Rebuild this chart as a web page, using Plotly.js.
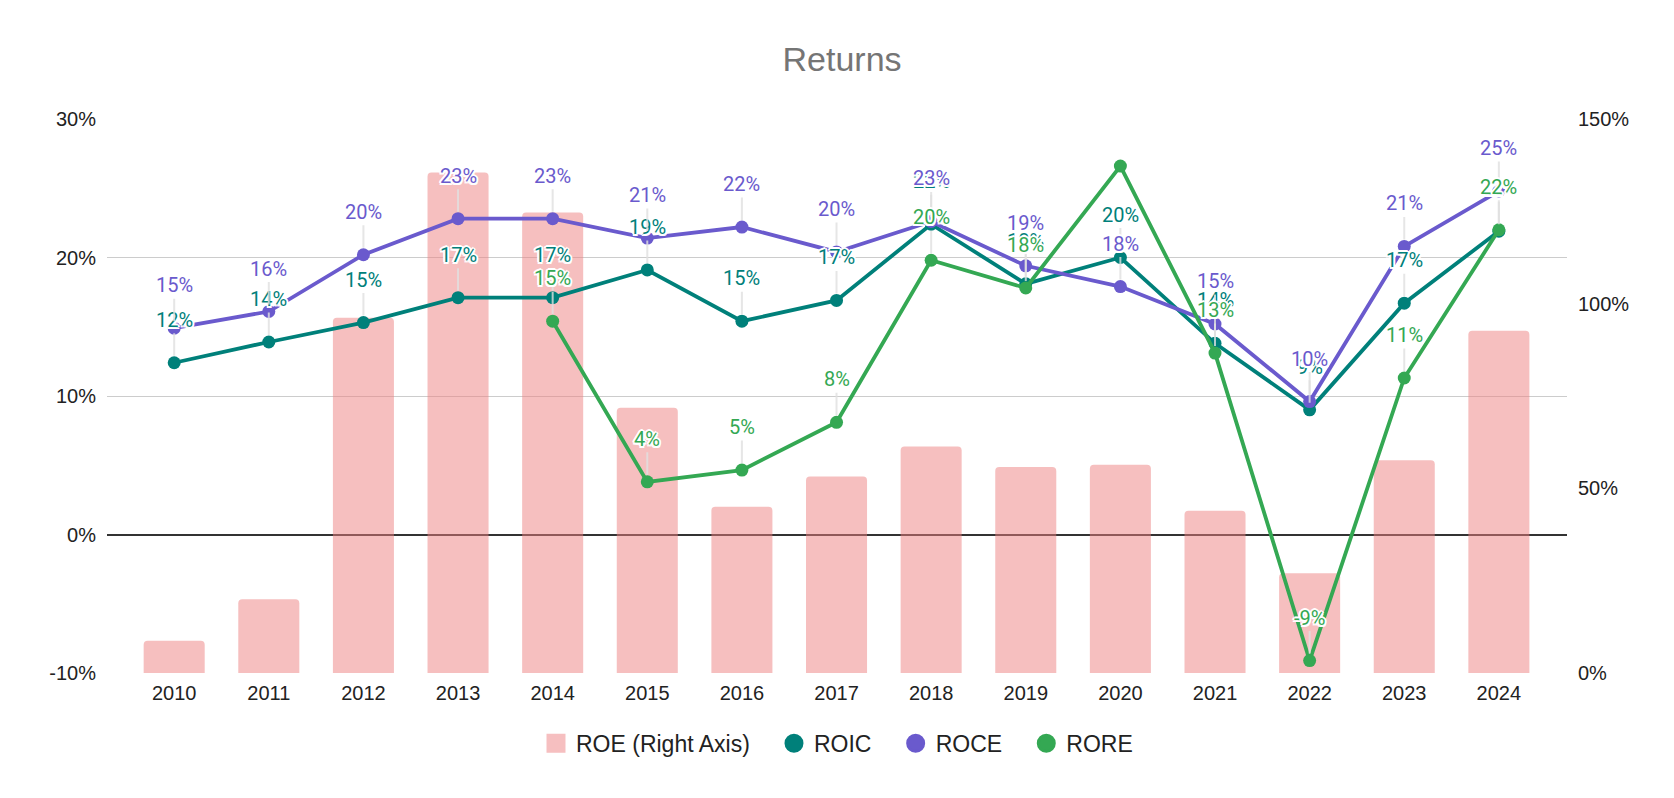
<!DOCTYPE html>
<html>
<head>
<meta charset="utf-8">
<script src="https://cdn.plot.ly/plotly-3.0.1.min.js"></script>
<style>
  html, body { margin: 0; padding: 0; background: #fff; }
  #plot { width: 1674px; height: 798px; }
</style>
</head>
<body>
<div id="plot"></div>
<script>
const years = ['2010', '2011', '2012', '2013', '2014', '2015', '2016', '2017',
    '2018', '2019', '2020', '2021', '2022', '2023', '2024'];

// ROE on the right axis, in %
const roe = [8.7, 20, 96.2, 135.5, 124.7, 71.8, 45, 53.2, 61.3, 55.8, 56.4, 43.9, 27, 57.6, 92.7];

// returns on the left axis, in %
const roic = [12.4, 13.9, 15.3, 17.1, 17.1, 19.1, 15.4, 16.9, 22.4, 18.1, 20.0, 13.8, 9.0, 16.7, 21.9];
const roce = [14.9, 16.1, 20.2, 22.8, 22.8, 21.4, 22.2, 20.4, 22.6, 19.4, 17.9, 15.2, 9.6, 20.8, 24.8];
const rore = [null, null, null, null, 15.4, 3.8, 4.65, 8.1, 19.8, 17.8, 26.6, 13.1, -9.1, 11.3, 22.0];

// data labels the original chart leaves out
const roreHiddenLabels = ['2020'];

const leftTicks = [-10, 0, 10, 20, 30];
const rightTicks = [0, 50, 100, 150];

const colors = {
    roe: 'rgba(238, 127, 128, 0.5)',
    roeLegend: 'rgb(246, 191, 192)',
    roic: 'rgb(0, 128, 122)',
    roce: 'rgb(106, 90, 205)',
    rore: 'rgb(52, 168, 83)',
};

const lineTrace = (name, values, color) => ({
    x: years,
    y: values,
    name: name,
    type: 'scatter',
    mode: 'lines+markers',
    yaxis: 'y2',
    showlegend: false,
    line: { color: color, width: 3.8 },
    marker: { color: color, size: 13 },
    hoverinfo: 'x+y+name',
});

// legend-only entries, so the legend shows plain dots and a big square
const pad = '&nbsp;&nbsp;&nbsp;';
const legendDot = (name, color, symbol) => ({
    x: [null],
    y: [null],
    name: name,
    type: 'scatter',
    mode: 'markers',
    yaxis: 'y2',
    marker: { color: color, size: 16, symbol: symbol, line: { color: color, width: 3 } },
});

const data = [
    {
        x: years,
        y: roe,
        name: 'ROE (Right Axis)',
        type: 'bar',
        showlegend: false,
        marker: { color: colors.roe },
    },
    lineTrace('ROIC', roic, colors.roic),
    lineTrace('ROCE', roce, colors.roce),
    lineTrace('RORE', rore, colors.rore),
    legendDot('ROE (Right Axis)' + pad, colors.roeLegend, 'square'),
    legendDot('ROIC' + pad, colors.roic, 'circle'),
    legendDot('ROCE' + pad, colors.roce, 'circle'),
    legendDot('RORE', colors.rore, 'circle'),
];

const halo = '2px 0px 0px #fff, -2px 0px 0px #fff, 0px 2px 0px #fff, 0px -2px 0px #fff, ' +
    '1.5px 1.5px 0px #fff, -1.5px -1.5px 0px #fff, 1.5px -1.5px 0px #fff, -1.5px 1.5px 0px #fff';

// annotations on a category axis are placed by category index
const labels = (values, color, hidden) => values
    .map((v, i) => ({ v: v, i: i }))
    .filter(d => d.v !== null && !(hidden || []).includes(years[d.i]))
    .map(d => ({
        x: d.i,
        y: d.v,
        xref: 'x',
        yref: 'y2',
        text: Math.round(d.v) + '%',
        showarrow: true,
        arrowhead: 0,
        arrowwidth: 2,
        arrowcolor: 'rgba(225, 225, 225, 0.8)',
        standoff: 7,
        ax: 0,
        ay: -43,
        font: { family: 'Roboto, sans-serif', size: 20, color: color, shadow: halo },
    }));

const tickFont = { family: 'Arial, "Liberation Sans", sans-serif', size: 20, color: '#222' };

const layout = {
    width: 1674,
    height: 798,
    paper_bgcolor: '#fff',
    plot_bgcolor: '#fff',
    title: {
        text: 'Returns',
        x: 0.503,
        xanchor: 'center',
        y: 0.926,
        yanchor: 'middle',
        font: { family: 'Arial, "Liberation Sans", sans-serif', size: 34, color: '#757575' },
    },
    margin: { l: 107, r: 107, t: 119, b: 125 },
    bargap: 0.355,
    barcornerradius: 4,
    xaxis: {
        type: 'category',
        range: [-0.71, 14.72],
        showgrid: false,
        showline: false,
        ticks: '',
        tickfont: tickFont,
        ticklabelstandoff: 6,
        fixedrange: true,
    },
    yaxis: {
        side: 'right',
        range: [0, 150],
        tickvals: rightTicks,
        ticktext: rightTicks.map(v => v + '%'),
        showgrid: false,
        zeroline: false,
        tickfont: tickFont,
        ticklabelstandoff: 10,
        fixedrange: true,
    },
    yaxis2: {
        overlaying: 'y',
        side: 'left',
        range: [-10, 30],
        tickvals: leftTicks,
        ticktext: leftTicks.map(v => v + '%'),
        showgrid: true,
        gridcolor: '#cccccc',
        gridwidth: 1,
        zeroline: true,
        zerolinecolor: '#333333',
        zerolinewidth: 1.6,
        tickfont: tickFont,
        ticklabelstandoff: 10,
        fixedrange: true,
    },
    showlegend: true,
    legend: {
        orientation: 'h',
        x: 0.5,
        xanchor: 'center',
        y: -0.127,
        yanchor: 'middle',
        font: { family: 'Arial, "Liberation Sans", sans-serif', size: 23, color: '#222' },
        itemwidth: 30,
        tracegroupgap: 0,
    },
    annotations: [
        ...labels(roic, colors.roic),
        ...labels(roce, colors.roce),
        ...labels(rore, colors.rore, roreHiddenLabels),
    ],
};

const config = {
    displayModeBar: false,
};

Plotly.newPlot('plot', data, layout, config);
</script>
</body>
</html>
